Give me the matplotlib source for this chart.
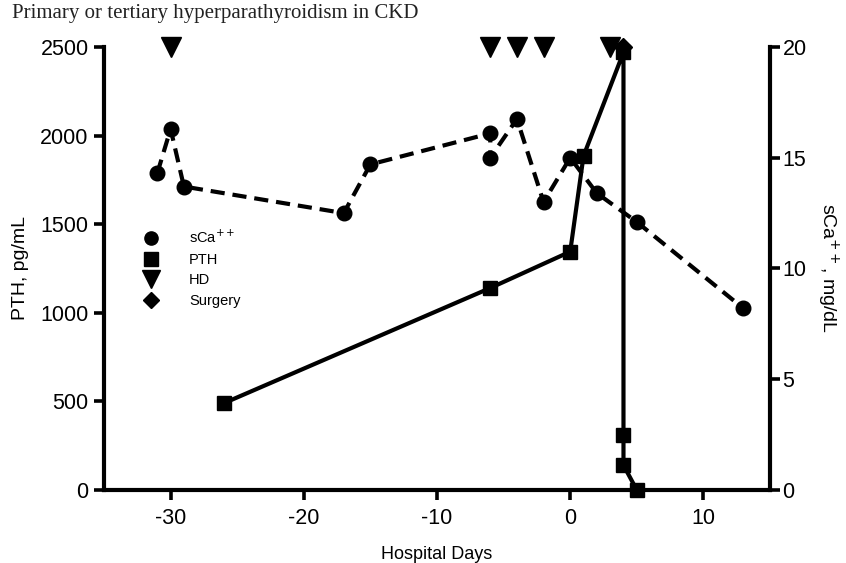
import matplotlib
matplotlib.use("Agg")
import matplotlib.pyplot as plt
from matplotlib.lines import Line2D

plt.rcParams['font.family'] = ['Liberation Sans', 'DejaVu Sans']
plt.rcParams['axes.unicode_minus'] = False

# ---- data ----
sca_days = [-31, -30, -29, -17, -15, -6, -6, -4, -2, 0, 2, 5, 13]
sca_vals = [14.3, 16.3, 13.7, 12.5, 14.7, 16.1, 15.0, 16.75, 13.0, 15.0, 13.4, 12.1, 8.2]

pth_days = [-26, -6, 0, 1, 4, 4, 4, 5]
pth_vals = [490, 1140, 1345, 1885, 2470, 310, 140, 0]

hd_days = [-30, -6, -4, -2, 3]
hd_level = 2500
surgery_days = [4]
surgery_level = 2500

x_ticks = [-30, -20, -10, 0, 10]
pth_ticks = [0, 500, 1000, 1500, 2000, 2500]
sca_ticks = [0, 5, 10, 15, 20]

title = "Primary or tertiary hyperparathyroidism in CKD"

# ---- figure ----
fig = plt.figure(figsize=(8.46, 5.63), dpi=100)
ax = fig.add_axes([104/846, 1-490/563, (770-104)/846, (490-47)/563])
ax2 = ax.twinx()
ax.set_zorder(ax2.get_zorder() + 1)
ax.patch.set_visible(False)

lw = 3.0
ax2.plot(sca_days, sca_vals, color='black', lw=lw, linestyle=(0, (3.4, 1.9)),
         marker='o', markersize=10.5, clip_on=False)
ax.plot(pth_days, pth_vals, color='black', lw=lw, marker='s', markersize=10.5,
        clip_on=False, solid_joinstyle='miter')
ax.plot(hd_days, [hd_level]*len(hd_days), linestyle='none', marker='v',
        markersize=15, color='black', clip_on=False)
ax.plot(surgery_days, [surgery_level]*len(surgery_days), linestyle='none', marker='D',
        markersize=9, color='black', clip_on=False, zorder=1.5)

ax.set_xlim(-35, 15)
ax.set_ylim(0, 2500)
ax2.set_ylim(0, 20)
ax.set_xticks(x_ticks)
ax.set_yticks(pth_ticks)
ax2.set_yticks(sca_ticks)

for a in (ax, ax2):
    a.spines['top'].set_visible(False)
    for s in ('left', 'right', 'bottom'):
        a.spines[s].set_linewidth(3.0)
ax.spines['right'].set_visible(False)
ax2.spines['left'].set_visible(False)
ax2.spines['bottom'].set_visible(False)

ax.tick_params(axis='both', direction='out', length=7, width=2.6, labelsize=15.5, pad=4)
ax.tick_params(axis='x', pad=6)
ax2.tick_params(axis='y', direction='out', length=7, width=2.6, labelsize=15.5, pad=2)

ax.set_xlabel("Hospital Days", fontsize=13)
ax.xaxis.set_label_coords(0.5, -0.126)
ax.set_ylabel("PTH, pg/mL", fontsize=14)
ax.yaxis.set_label_coords(-0.112, 0.5)
ax2.set_ylabel("sCa$^{++}$, mg/dL", fontsize=14, rotation=270, va='center')
ax2.yaxis.set_label_coords(1.087, 0.5)

handles = [
    Line2D([], [], color='black', marker='o', linestyle='none', markersize=9.5),
    Line2D([], [], color='black', marker='s', linestyle='none', markersize=9.5),
    Line2D([], [], color='black', marker='v', linestyle='none', markersize=13),
    Line2D([], [], color='black', marker='D', linestyle='none', markersize=8),
]
labels = ["sCa$^{++}$", "PTH", "HD", "Surgery"]
leg = ax.legend(handles, labels, frameon=False, fontsize=10.5, handlelength=1.0,
                handletextpad=2.1, labelspacing=0.45, borderpad=0, borderaxespad=0,
                loc='upper left', bbox_to_anchor=(144/846, 1-229/563),
                bbox_transform=fig.transFigure)

fig.text(12/846, 1-4/563, title, fontsize=15, family='Liberation Serif',
         ha='left', va='top', color='#222222')

fig.savefig("out.png", dpi=100)
